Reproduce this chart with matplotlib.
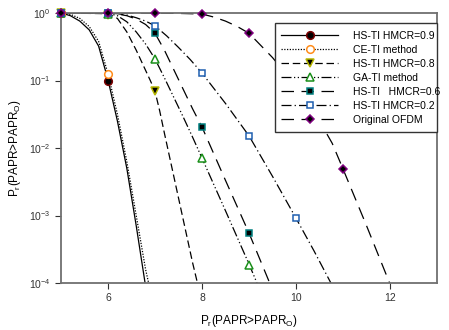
import numpy as np
import matplotlib
matplotlib.use("Agg")
import matplotlib.pyplot as plt
from matplotlib.lines import Line2D
from matplotlib.patches import Rectangle

plt.rcParams['font.family'] = ['Liberation Sans', 'DejaVu Sans']
plt.rcParams['mathtext.default'] = 'regular'

labels = ['HS-TI HMCR=0.9', 'CE-TI method', 'HS-TI HMCR=0.8', 'GA-TI method',
          'HS-TI   HMCR=0.6', 'HS-TI HMCR=0.2', 'Original OFDM']

# smooth curves (x, log10 P)
c09_x = [5.0, 5.2, 5.4, 5.6, 5.8, 6.0, 6.2, 6.4, 6.6, 6.8]
c09_y = [0, -0.04, -0.12, -0.25, -0.49, -0.99, -1.6, -2.3, -3.15, -4.05]
ce_x = [5.0, 5.2, 5.4, 5.6, 5.8, 6.0, 6.2, 6.4, 6.6, 6.8, 6.88]
ce_y = [0, -0.02, -0.08, -0.2, -0.42, -0.9, -1.5, -2.2, -3.0, -3.8, -4.05]
c08_x = [5.0, 6.0, 6.2, 6.4, 6.6, 6.8, 6.9, 7.0, 7.1, 7.2, 7.4, 7.6, 7.8, 7.92]
c08_y = [0, -0.01, -0.08, -0.28, -0.55, -0.85, -1.0, -1.16, -1.45, -1.78, -2.42, -3.06, -3.7, -4.05]
ga_x = [5.0, 6.0, 6.2, 6.4, 6.6, 6.8, 7.0, 7.2, 7.4, 7.6, 7.8, 8.0, 8.5, 9.0, 9.2]
ga_y = [0, -0.005, -0.04, -0.13, -0.28, -0.46, -0.68, -0.96, -1.25, -1.54, -1.84, -2.15, -2.93, -3.72, -4.05]
c06_x = [5.0, 6.0, 6.2, 6.4, 6.6, 6.8, 7.0, 7.2, 7.4, 7.6, 7.8, 8.0, 8.5, 9.0, 9.47]
c06_y = [0, -0.003, -0.015, -0.04, -0.09, -0.17, -0.3, -0.55, -0.84, -1.13, -1.42, -1.69, -2.48, -3.26, -4.05]
c02_x = [5.0, 6.0, 6.2, 6.4, 6.6, 6.8, 7.0, 7.25, 7.5, 7.75, 8.0, 8.5, 9.0, 9.5, 10.0, 10.38, 10.78]
c02_y = [0, -0.002, -0.01, -0.03, -0.07, -0.12, -0.19, -0.34, -0.51, -0.69, -0.89, -1.34, -1.82, -2.42, -3.04, -3.52, -4.05]
of_x = [5.0, 6.0, 7.0, 7.5, 8.0, 8.25, 8.5, 8.75, 9.0, 9.5, 10.0, 10.5, 10.77, 11.0, 11.5, 12.02]
of_y = [0, 0, -0.002, -0.006, -0.015, -0.06, -0.12, -0.2, -0.3, -0.66, -1.08, -1.6, -1.93, -2.31, -3.15, -4.05]

# marker points (x, P)
m09_x = [5, 6]
m09_p = [1.0, 0.1]
mce_x = [5, 6]
mce_p = [1.0, 0.125]
m08_x = [5, 6, 7]
m08_p = [1.0, 0.95, 0.07]
mga_x = [5, 6, 7, 8, 9]
mga_p = [1.0, 0.98, 0.21, 0.0071, 0.000185]
m06_x = [5, 6, 7, 8, 9]
m06_p = [1.0, 0.99, 0.5, 0.0204, 0.00055]
m02_x = [5, 6, 7, 8, 9, 10]
m02_p = [1.0, 0.99, 0.64, 0.13, 0.015, 0.00092]
mof_x = [5, 6, 7, 8, 9, 10, 11]
mof_p = [1.0, 1.0, 1.0, 0.97, 0.5, 0.083, 0.0049]

curves = [(c09_x, c09_y), (ce_x, ce_y), (c08_x, c08_y), (ga_x, ga_y),
          (c06_x, c06_y), (c02_x, c02_y), (of_x, of_y)]
marks = [(m09_x, m09_p), (mce_x, mce_p), (m08_x, m08_p), (mga_x, mga_p),
         (m06_x, m06_p), (m02_x, m02_p), (mof_x, mof_p)]

styles = ['-', (0, (1, 1.2)), (0, (6, 3)), (0, (8, 2, 1, 2, 1, 2)),
          (0, (10, 6)), (0, (8, 2.5, 1, 2.5)), (0, (10, 6))]
mk = ['o', 'o', 'v', '^', 's', 's', 'D']
mfc = ['black', 'white', 'black', 'white', 'black', 'white', 'black']
mec = ['#7a0000', '#ff8c1a', '#b8b800', '#1a8f1a', '#008080', '#1f5fb0', '#800080']
ms = [5.5, 5.5, 5.5, 5.5, 5, 5, 4.5]

fig = plt.figure(figsize=(4.49, 3.30), dpi=100)
ax = fig.add_axes([61/449, 1-283/330, (437-61)/449, (283-13)/330])

handles = []
for i in range(7):
    cx, cy = curves[i]
    ax.plot(cx, 10 ** np.array(cy), color='black', lw=0.9, ls=styles[i], zorder=2)
    px, pp = marks[i]
    ax.plot(px, pp, ls='none', marker=mk[i], ms=ms[i], mfc=mfc[i], mec=mec[i],
            mew=1.1, zorder=3, clip_on=False)
    handles.append(Line2D([0], [1], color='black', lw=0.9, ls=styles[i], marker=mk[i],
                          ms=ms[i], mfc=mfc[i], mec=mec[i], mew=1.1))

ax.set_yscale('log')
ax.set_xlim(5, 13)
ax.set_ylim(1e-4, 1)
ax.set_xticks([6, 8, 10, 12])
ax.set_yticks([1e-4, 1e-3, 1e-2, 1e-1, 1])
ax.yaxis.set_minor_locator(matplotlib.ticker.NullLocator())
ax.tick_params(axis='both', labelsize=7.5, direction='out', length=4, width=0.8, colors='#333333')
for s in ax.spines.values():
    s.set_color('#707070')
    s.set_linewidth(1.3)

ax.set_xlabel('P$_r$(PAPR>PAPR$_O$)', fontsize=8.5, labelpad=7)
ax.set_ylabel('P$_r$(PAPR>PAPR$_O$)', fontsize=8.5, labelpad=4)

# legend box
fig.patches.append(Rectangle((275/449, 1-132/330), (437-275)/449, (132-23)/330,
                             transform=fig.transFigure, facecolor='white',
                             edgecolor='#333333', lw=1.0, zorder=5))
leg = fig.legend(handles, labels, loc='upper left', bbox_to_anchor=(281/449, 1-31/330),
                 frameon=False, fontsize=7.5, handlelength=5.5, handletextpad=1.4,
                 labelspacing=0.38, borderpad=0, borderaxespad=0, numpoints=1)
leg.set_zorder(6)

fig.savefig('out.png', dpi=100)
